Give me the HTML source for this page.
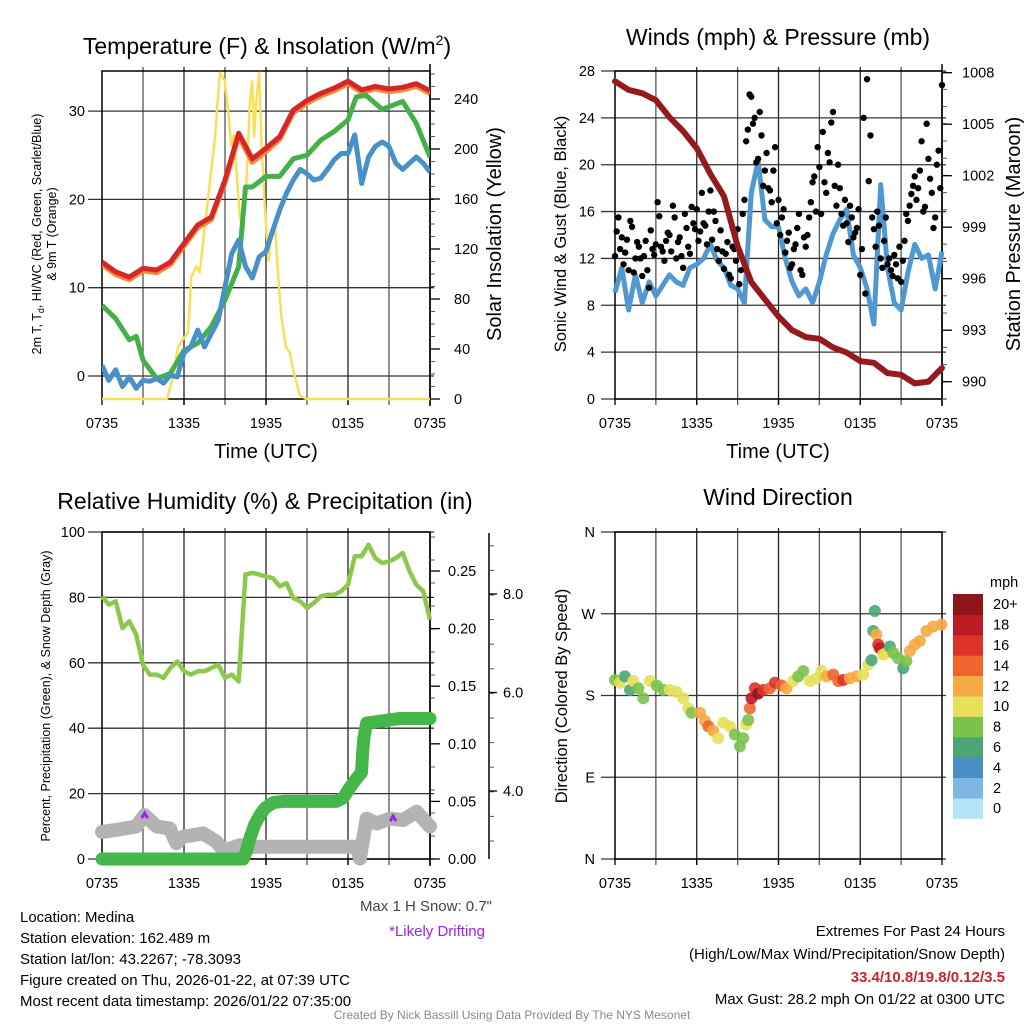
<!DOCTYPE html>
<html><head><meta charset="utf-8"><style>
html,body{margin:0;padding:0;background:#fff}
svg{display:block;font-family:"Liberation Sans",sans-serif}
</style></head><body>
<svg id="c" width="1024" height="1024" viewBox="0 0 1024 1024" xmlns="http://www.w3.org/2000/svg">
<rect width="1024" height="1024" fill="#fff"/>
<g id="g1"></g>
<g id="g2"></g>
<g id="g3"></g>
<g id="g4"></g>
<text x="267" y="54" font-size="23" text-anchor="middle">Temperature (F) &amp; Insolation (W/m<tspan dy="-9" font-size="14">2</tspan><tspan dy="9">)</tspan></text>
<text x="778" y="45" font-size="23" text-anchor="middle">Winds (mph) &amp; Pressure (mb)</text>
<text x="265" y="509" font-size="23" text-anchor="middle">Relative Humidity (%) &amp; Precipitation (in)</text>
<text x="778" y="505" font-size="23" text-anchor="middle">Wind Direction</text>
<text x="266" y="458" font-size="20" text-anchor="middle">Time (UTC)</text>
<text x="778" y="458" font-size="20" text-anchor="middle">Time (UTC)</text>
<text transform="translate(41,234) rotate(-90)" font-size="12.5" text-anchor="middle">2m T, T<tspan font-size="9" dy="3">d</tspan><tspan dy="-3">, HI/WC (Red, Green, Scarlet/Blue)</tspan></text>
<text transform="translate(56,234) rotate(-90)" font-size="12.5" text-anchor="middle">&amp; 9m T (Orange)</text>
<text transform="translate(501,234) rotate(-90)" font-size="20" text-anchor="middle">Solar Insolation (Yellow)</text>
<text transform="translate(566,234) rotate(-90)" font-size="16.5" text-anchor="middle">Sonic Wind &amp; Gust (Blue, Black)</text>
<text transform="translate(1020,234) rotate(-90)" font-size="20" text-anchor="middle">Station Pressure (Maroon)</text>
<text transform="translate(50,696) rotate(-90)" font-size="12.5" text-anchor="middle">Percent, Precipitation (Green), &amp; Snow Depth (Gray)</text>
<text transform="translate(567,696) rotate(-90)" font-size="16.5" text-anchor="middle">Direction (Colored By Speed)</text>
<text x="990" y="587" font-size="14.5">mph</text>
<text x="492" y="911" font-size="15" fill="#444" text-anchor="end">Max 1 H Snow: 0.7"</text>
<text x="485" y="936" font-size="15" fill="#a020f0" text-anchor="end">*Likely Drifting</text>
<g font-size="15">
<text x="20" y="922">Location: Medina</text>
<text x="20" y="943">Station elevation: 162.489 m</text>
<text x="20" y="964">Station lat/lon: 43.2267; -78.3093</text>
<text x="20" y="985">Figure created on Thu, 2026-01-22, at 07:39 UTC</text>
<text x="20" y="1006">Most recent data timestamp: 2026/01/22 07:35:00</text>
</g>
<g font-size="15" text-anchor="end">
<text x="1005" y="936">Extremes For Past 24 Hours</text>
<text x="1005" y="959">(High/Low/Max Wind/Precipitation/Snow Depth)</text>
<text x="1005" y="982" font-weight="bold" fill="#cc2229">33.4/10.8/19.8/0.12/3.5</text>
<text x="1005" y="1004">Max Gust: 28.2 mph On 01/22 at 0300 UTC</text>
</g>
<text x="512" y="1019" font-size="12" fill="#888" text-anchor="middle">Created By Nick Bassill Using Data Provided By The NYS Mesonet</text>
</svg>
<script>
// ---------- data ----------
const xTickLabels = ["0735","1335","1935","0135","0735"];
const hours = [0,1,2,3,4,5,6,7,8,9,10,11,12,13,14,15,16,17,18,19,20,21,22,23,24];
const tempRed = [12.9,11.8,11.2,12.2,12.0,12.9,15.0,17.1,18.0,22.2,27.5,24.6,25.8,27.1,30.1,31.2,32.0,32.6,33.4,32.4,32.8,32.5,32.7,33.1,32.3];
const temp9mOrange = [12.6,11.5,10.9,11.9,11.7,12.6,14.7,16.8,17.7,21.9,27.1,24.2,25.4,26.8,29.8,30.9,31.7,32.3,33.1,32.1,32.5,32.2,32.4,32.8,32.0];
const greenTimes = [0,1,2,2.5,3,4,5,6,7,8,9,10,10.5,11,12,13,14,15,16,17,18,18.6,19.3,20.5,22,23,24];
const greenValues = [8.0,6.5,4.1,4.5,1.8,-0.3,0.3,2.9,3.7,5.6,8.6,12.4,21.4,21.4,22.6,22.6,24.6,25.0,26.7,27.7,29.0,31.6,31.8,30.2,31.1,28.6,24.8];
const blueTimes = [0,0.5,1,1.5,2,2.5,3,3.5,4,4.5,5,5.5,6,6.5,7,7.5,8,8.5,9,9.5,10,10.5,11,11.5,12,12.5,13,13.5,14,14.5,15,15.5,16,16.5,17,17.5,18,18.5,19,19.5,20,20.5,21,21.5,22,22.5,23,23.5,24];
const blueValues = [1.2,-0.5,0.7,-1.2,-0.1,-1.4,-0.5,-0.6,-0.3,-0.8,0.1,-0.1,2.6,3.3,5.2,3.3,4.8,6.3,10.1,13.9,15.4,12.4,11.1,13.5,14.1,16.5,18.8,20.7,22.2,23.4,22.9,22.2,22.4,23.4,24.5,25.2,25.2,27.3,21.8,24.8,26.0,26.5,26.0,24.1,23.4,24.1,24.8,24.1,23.1];
const solarTimes = [0,4.76,5.2,5.57,6.0,6.3,6.54,6.91,7.15,7.52,7.89,8.25,8.62,8.98,9.23,9.47,9.64,9.84,10.08,10.33,10.57,10.82,10.99,11.13,11.3,11.5,11.67,11.91,12.2,12.4,12.65,12.89,13.13,13.45,13.75,13.99,14.48,14.97,24];
const solarValues = [0,0,18,42,49,53,98,106,101,138,173,207,261,255,231,202,211,183,146,133,175,239,254,210,239,261,205,154,111,135,141,98,66,42,37,23,3,0,0];
const tempTicks = [0,10,20,30];
const solarTicks = [0,40,80,120,160,200,240];

const pressure = [1007.5,1007.0,1006.8,1006.4,1005.4,1004.6,1003.6,1002.1,1000.8,997.9,995.8,994.8,993.8,993.0,992.6,992.5,992.0,991.7,991.2,991.1,990.5,990.4,989.9,990.0,990.8];
const windValues = [9.1,11.2,7.6,10.6,8.2,10.0,8.8,9.7,10.6,10.0,9.7,11.2,11.5,12.0,13.2,11.8,11.2,9.7,9.4,8.2,17.6,20.3,15.3,14.7,14.7,12.0,10.0,8.8,9.4,8.2,10.0,12.3,14.1,15.3,16.2,12.3,11.2,9.4,6.4,18.3,11.2,8.2,7.6,10.8,13.2,12.0,12.3,9.4,12.6];
const gustA = [12.2,15.5,13.8,12.5,11.0,14.7,12.0,13.0,10.5,13.5,9.5,12.8,13.2,15.6,12.6,13.5,14.0,16.5,12.0,13.8,11.2,14.6,12.4,15.0,16.2,14.3,15.0,13.2,17.8,16.0,12.8,14.4,11.1,13.4,10.3,12.8,14.5,11.0,17.0,23.0,25.8,24.0,20.5,22.5,19.5,18.0,16.8,21.5,17.0,15.5,12.5,14.2,11.5,13.2,15.8,10.6,13.0,15.5,18.5,16.0,19.8,22.8,17.6,20.2,24.5,16.5,18.0,14.8,15.0,16.5,13.8,14.6,10.6,24.0,27.3,22.5,14.5,16.0,12.0,13.5,11.5,11.0,12.3,10.3,10.0,13.5,15.2,17.5,19.0,18.0,22.0,16.4,20.5,17.6,15.5,21.2,26.8];
const gustB = [14.3,12.8,11.5,13.6,15.2,10.8,13.4,12.0,12.2,11.0,14.4,12.3,16.8,13.0,11.8,14.2,12.6,15.5,13.4,12.2,15.8,13.0,16.4,14.5,13.5,17.6,14.8,16.0,13.6,15.2,11.8,12.6,12.4,10.6,13.0,11.8,9.8,15.8,22.0,26.0,23.5,20.2,24.5,18.2,21.0,17.8,19.5,15.0,14.0,16.2,13.5,11.2,12.8,14.6,11.0,13.8,14.0,16.8,19.0,21.5,15.8,18.5,21.0,23.6,18.2,20.0,15.8,17.0,13.4,15.5,14.2,16.2,12.8,9.0,18.6,15.5,13.0,14.8,11.2,15.5,12.0,10.5,11.5,13.0,11.8,15.8,16.5,18.2,17.0,19.5,16.0,23.5,18.8,14.6,20.0,18.0];
const windTicks = [0,4,8,12,16,20,24,28];
const pressureTicks = [990,993,996,999,1002,1005,1008];

const rhValues = [80.3,77.8,78.8,70.6,72.7,68.6,59.4,56.4,56.4,55.4,58.4,60.4,57.4,56.4,57.4,57.4,58.4,59.4,55.4,56.4,54.3,87,87.5,87,86.4,85.9,83.4,84.4,79.8,78.8,76.8,78.3,80.3,80.8,80.8,81.9,83.9,92.6,92.6,96.1,92,90.5,91,92,93.6,88,83.9,81.9,73.2];
const precipTimes = [0,10.33,10.57,10.82,11.18,11.55,11.91,12.52,13.26,17.16,17.65,18.14,18.63,18.99,19.07,19.16,19.36,21.8,24];
const precipValues = [0,0,0.007,0.018,0.03,0.038,0.044,0.049,0.05,0.05,0.053,0.062,0.07,0.075,0.092,0.105,0.118,0.122,0.122];
const snowTimes = [0,1.05,2.5,3.12,4.0,4.95,5.44,5.93,7.4,8.37,8.86,9.35,10.08,10.82,18.63,18.87,19.36,20.09,21.07,22.04,23.02,24];
const snowValues = [3.17,3.21,3.28,3.51,3.28,3.24,2.94,3.07,3.14,2.97,2.80,2.83,2.90,2.87,2.87,2.63,3.44,3.34,3.44,3.41,3.58,3.28];
const driftTimes = [3.12,21.3];
const driftValues = [3.51,3.45];
const rhTicks = [0,20,40,60,80,100];
const precipTicks = ["0.00","0.05","0.10","0.15","0.20","0.25"];
const snowTicks = ["4.0","6.0","8.0"];

const dirTimes = [0,0.37,0.73,1.1,1.34,1.71,2.08,2.57,3.06,3.55,4.03,4.52,5.01,5.38,5.62,6.23,6.6,6.85,7.21,7.58,7.95,8.43,8.8,9.17,9.41,9.61,9.78,9.9,10.02,10.27,10.51,10.88,11.37,11.74,12.23,12.59,13.08,13.45,13.82,14.31,14.79,15.16,15.53,16.02,16.39,16.75,17.24,17.73,18.22,18.58,18.83,18.95,19.07,19.19,19.32,19.44,19.68,19.93,20.17,20.42,20.78,21.15,21.39,21.64,22.0,22.37,22.86,23.35,23.96];
const dirValues = [197,194,201,186,196,188,177,196,191,186,186,184,177,166,161,161,152,146,141,133,150,146,137,124,133,148,153,166,177,188,182,186,188,194,191,188,196,201,207,196,199,207,201,203,196,197,199,201,203,214,219,251,273,247,236,232,225,227,234,227,221,210,218,229,236,240,251,256,258];
const dirSpeeds = [8,10,7,6,10,8,8,10,8,8,10,10,10,10,8,12,12,14,12,10,10,10,8,8,8,10,8,14,18,16,20,16,14,16,14,12,10,8,8,10,10,10,12,14,14,16,12,12,10,10,6,6,6,12,16,18,10,10,6,8,8,6,8,12,12,12,12,12,12];
const dirTickLabels = ["N","E","S","W","N"];
const speedColors = ["#b4e2f7","#7cb8e2","#4a8ec6","#4aa775","#7bc24b","#e6e05a","#f6a944","#f0652e","#dd3329","#bb1b25","#8e161b"];
const speedLabels = ["0","2","4","6","8","10","12","14","16","18","20+"];

// ---------- helpers ----------
const NS="http://www.w3.org/2000/svg";
function mk(parent,tag,attrs){const e=document.createElementNS(NS,tag);for(const k in attrs)e.setAttribute(k,attrs[k]);parent.appendChild(e);return e;}
function lin(d0,d1,r0,r1){return v=>r0+(v-d0)*(r1-r0)/(d1-d0);}
function pathD(xs,ys,fx,fy){return xs.map((t,i)=>(i?"L":"M")+fx(t).toFixed(1)+","+fy(ys[i]).toFixed(1)).join("");}
function frame(g,L,R,T,B,hLines,fy,name){
  for(let h=3;h<24;h+=3){const x=L+(R-L)*h/24;
    const v=mk(g,"line",{x1:x,x2:x,y1:T-4,y2:B+6,stroke:h%6?"#555":"#222","stroke-width":1.3});
    
    }
  hLines.forEach(val=>{const y=fy(val);
    const l=mk(g,"line",{x1:L-14,x2:R+4,y1:y,y2:y,stroke:"#333","stroke-width":1.3});
    
    });
  const r=mk(g,"rect",{x:L,y:T,width:R-L,height:B-T,fill:"none",stroke:"#000","stroke-width":1.5});
  
  
  xTickLabels.forEach((s,i)=>{const x=L+(R-L)*i/4;
    mk(g,"line",{x1:x,x2:x,y1:B,y2:B+6,stroke:"#000","stroke-width":1.3});
    const t=mk(g,"text",{x:x,y:B+29,"font-size":14.5,"text-anchor":"middle"});t.textContent=s;
    
    });
}
function minorTicks(g,x,y0,y1,step){for(let y=y0;y>=y1-0.1;y-=step)mk(g,"line",{x1:x,x2:x+5,y1:y,y2:y,stroke:"#555","stroke-width":1});}

// ---------- panel 1 ----------
(function(){
  const g=document.getElementById("g1");const L=102,R=430,T=71,B=399;
  const fx=lin(0,24,L,R), fy=lin(0,10,376,287.7), fs=lin(0,40,399,349);
  frame(g,L,R,T,B,tempTicks,fy,"temperature");
  tempTicks.forEach(v=>{const t=mk(g,"text",{x:L-17,y:fy(v)+5,"font-size":14.5,"text-anchor":"end"});t.textContent=v;
    
    });
  mk(g,"line",{x1:R,x2:R,y1:64,y2:406,stroke:"#000","stroke-width":1.5});
  minorTicks(g,R,399,71,12.5);
  solarTicks.forEach(v=>{const y=fs(v);mk(g,"line",{x1:R,x2:R+10,y1:y,y2:y,stroke:"#000","stroke-width":1.3});
    const t=mk(g,"text",{x:R+24,y:y+5,"font-size":14.5});t.textContent=v;
    
    });
  const cp=mk(g,"clipPath",{id:"cp1"});mk(cp,"rect",{x:L,y:T-2,width:R-L,height:B-T+4});
  const s=mk(g,"g",{"clip-path":"url(#cp1)"});
  const y1=mk(s,"path",{d:pathD(solarTimes,solarValues,fx,fs),fill:"none",stroke:"#f9df57","stroke-width":2.5,"stroke-linejoin":"round"});
  
  
  const o=mk(s,"path",{d:pathD(hours,temp9mOrange,fx,fy),fill:"none",stroke:"#f28a3a","stroke-width":5,"stroke-linejoin":"round"});
  
  
  const r=mk(s,"path",{d:pathD(hours,tempRed,fx,fy),fill:"none",stroke:"#d62728","stroke-width":5,"stroke-linejoin":"round"});
  
  
  const gr=mk(s,"path",{d:pathD(greenTimes,greenValues,fx,fy),fill:"none",stroke:"#44b04a","stroke-width":5,"stroke-linejoin":"round"});
  
  
  const b=mk(s,"path",{d:pathD(blueTimes,blueValues,fx,fy),fill:"none",stroke:"#4a90c8","stroke-width":5,"stroke-linejoin":"round"});
  
  
})();

// ---------- panel 2 ----------
(function(){
  const g=document.getElementById("g2");const L=615,R=942,T=71,B=399;
  const fx=lin(0,24,L,R), fy=lin(0,28,399,71), fp=lin(990,1008,381.7,72.7);
  frame(g,L,R,T,B,windTicks,fy,"wind");
  windTicks.forEach(v=>{const t=mk(g,"text",{x:L-20,y:fy(v)+5,"font-size":14.5,"text-anchor":"end"});t.textContent=v;
    
    });
  mk(g,"line",{x1:R,x2:R,y1:64,y2:406,stroke:"#000","stroke-width":1.5});
  minorTicks(g,R,399,71,17.2);
  pressureTicks.forEach(v=>{const y=fp(v);mk(g,"line",{x1:R,x2:R+10,y1:y,y2:y,stroke:"#000","stroke-width":1.3});
    const t=mk(g,"text",{x:R+20,y:y+5,"font-size":14.5});t.textContent=v;
    
    });
  const cp=mk(g,"clipPath",{id:"cp2"});mk(cp,"rect",{x:L-4,y:T-4,width:R-L+8,height:B-T+8});
  const s=mk(g,"g",{"clip-path":"url(#cp2)"});
  const wt=windValues.map((v,i)=>i*0.5);
  const w=mk(s,"path",{d:pathD(wt,windValues,fx,fy),fill:"none",stroke:"#4f98d0","stroke-width":5,"stroke-linejoin":"round"});
  
  
  gustA.forEach((v,i)=>{const c=mk(s,"circle",{cx:fx(i*0.25),cy:fy(v),r:3.2,fill:"#000"});
    
    });
  gustB.forEach((v,i)=>{const c=mk(s,"circle",{cx:fx(i*0.25+0.125),cy:fy(v),r:3.2,fill:"#000"});
    
    });
  const p=mk(s,"path",{d:pathD(hours,pressure,fx,fp),fill:"none",stroke:"#951a1d","stroke-width":6,"stroke-linejoin":"round","stroke-linecap":"round"});
  
  
})();

// ---------- panel 3 ----------
(function(){
  const g=document.getElementById("g3");const L=102,R=430,T=532,B=859;
  const fx=lin(0,24,L,R), fy=lin(0,100,859,532), fpr=lin(0,0.05,859,801.4), fsn=lin(4,6,791,692.5);
  frame(g,L,R,T,B,rhTicks,fy,"humidity");
  rhTicks.forEach(v=>{const t=mk(g,"text",{x:L-17,y:fy(v)+5,"font-size":14.5,"text-anchor":"end"});t.textContent=v;
    
    });
  mk(g,"line",{x1:R,x2:R,y1:532,y2:866,stroke:"#000","stroke-width":1.5});
  minorTicks(g,R,859,532,23);
  precipTicks.forEach(v=>{const y=fpr(parseFloat(v));mk(g,"line",{x1:R,x2:R+10,y1:y,y2:y,stroke:"#000","stroke-width":1.3});
    const t=mk(g,"text",{x:R+18,y:y+5,"font-size":14.5});t.textContent=v;
    
    });
  mk(g,"line",{x1:489,x2:489,y1:533,y2:859,stroke:"#000","stroke-width":1.5});
  for(let y=841;y>=540;y-=24.6)mk(g,"line",{x1:489,x2:494,y1:y,y2:y,stroke:"#555","stroke-width":1});
  snowTicks.forEach(v=>{const y=fsn(parseFloat(v));mk(g,"line",{x1:489,x2:497,y1:y,y2:y,stroke:"#000","stroke-width":1.3});
    const t=mk(g,"text",{x:503,y:y+5,"font-size":14.5});t.textContent=v;
    
    });
  const rt=rhValues.map((v,i)=>i*0.5);
  const rh=mk(g,"path",{d:pathD(rt,rhValues,fx,fy),fill:"none",stroke:"#8cc84b","stroke-width":4.5,"stroke-linejoin":"round"});
  
  
  const sn=mk(g,"path",{d:pathD(snowTimes,snowValues,fx,fsn),fill:"none",stroke:"#b3b3b3","stroke-width":14,"stroke-linejoin":"round","stroke-linecap":"round"});
  
  
  driftTimes.forEach((t,i)=>{const x=fx(t),y=fsn(driftValues[i]);
    const d=mk(g,"path",{d:`M${x-3},${y+3}L${x},${y-2}L${x+3},${y+3}`,fill:"none",stroke:"#a020f0","stroke-width":3});
    
    });
  const pr=mk(g,"path",{d:pathD(precipTimes,precipValues,fx,fpr),fill:"none",stroke:"#45b649","stroke-width":13,"stroke-linejoin":"round","stroke-linecap":"round"});
  
  
})();

// ---------- panel 4 ----------
(function(){
  const g=document.getElementById("g4");const L=615,R=942,T=532,B=859;
  const fx=lin(0,24,L,R), fy=lin(0,360,859,532);
  const dirTicks=[0,90,180,270,360];
  frame(g,L,R,T,B,dirTicks,fy,"direction");
  dirTicks.forEach((v,i)=>{const t=mk(g,"text",{x:L-20,y:fy(v)+5,"font-size":14.5,"text-anchor":"end"});t.textContent=dirTickLabels[i];
    
    });
  dirTimes.forEach((t,i)=>{const k=Math.min(10,Math.floor(dirSpeeds[i]/2));
    const c=mk(g,"circle",{cx:fx(t),cy:fy(dirValues[i]),r:6,fill:speedColors[k],"fill-opacity":0.9});
    
    });
  const h=20.4, top=594;
  speedColors.forEach((col,i)=>{const y=top+(10-i)*h;
    const r=mk(g,"rect",{x:953,y:y,width:30,height:h+0.5,fill:col});
    
    
    const t=mk(g,"text",{x:993,y:y+h/2+5,"font-size":14.5});t.textContent=speedLabels[i];
    
    });
})();
</script>
</body></html>
